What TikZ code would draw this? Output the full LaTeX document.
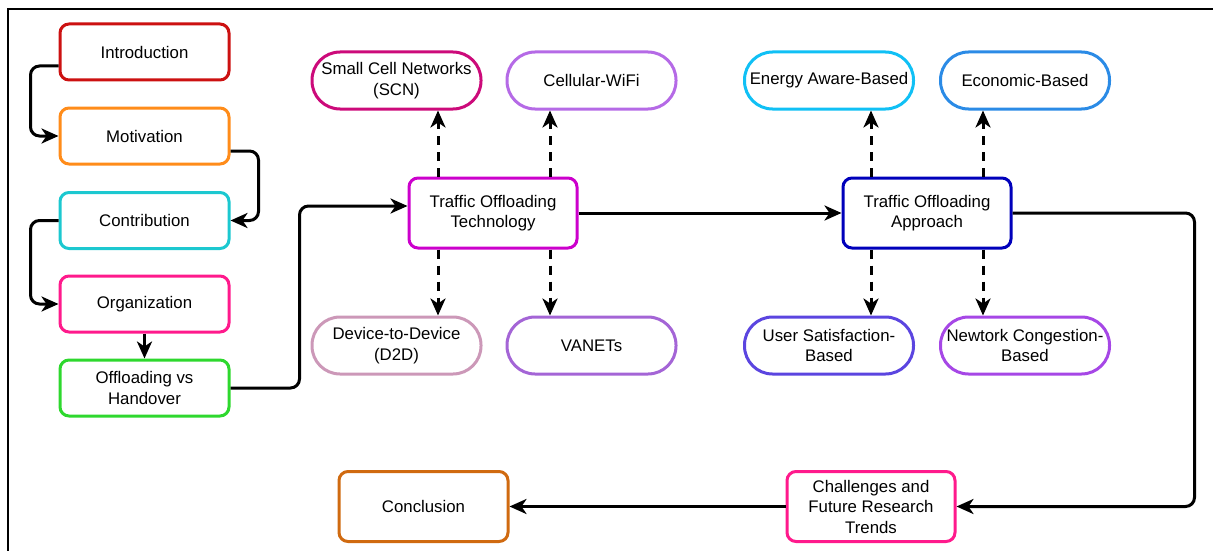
\documentclass[tikz,border=0pt]{standalone}
\usepackage{fontspec}
\setmainfont{Liberation Sans}
\usetikzlibrary{arrows.meta}
\definecolor{cIntro}{HTML}{CC1111}
\definecolor{cMotiv}{HTML}{FF8C1A}
\definecolor{cContrib}{HTML}{1CC8D0}
\definecolor{cOrg}{HTML}{FF1A8C}
\definecolor{cOff}{HTML}{2ED82E}
\definecolor{cSCN}{HTML}{CC0A7A}
\definecolor{cWiFi}{HTML}{B56AE6}
\definecolor{cDD}{HTML}{CC98B8}
\definecolor{cVan}{HTML}{A465D6}
\definecolor{cTOT}{HTML}{CC00CC}
\definecolor{cTOA}{HTML}{0000BB}
\definecolor{cEner}{HTML}{10C0F5}
\definecolor{cEcon}{HTML}{2B8BE6}
\definecolor{cUser}{HTML}{5B45E0}
\definecolor{cNet}{HTML}{A647E6}
\definecolor{cChal}{HTML}{FF1A8C}
\definecolor{cConc}{HTML}{D06A10}
\tikzset{
  boxbase/.style={draw, line width=3pt, align=center, inner sep=0pt,
    font=\fontsize{16.8}{20.5}\selectfont, text=black},
  rbox/.style={boxbase, rectangle, rounded corners=9pt, minimum width=169pt, minimum height=56pt},
  bigbox/.style={boxbase, rectangle, rounded corners=9pt, minimum width=168pt, minimum height=70pt},
  pill/.style={boxbase, rectangle, rounded corners=28pt, minimum width=169pt, minimum height=57pt},
  conn/.style={line width=3pt, rounded corners=9pt,
    -{Stealth[length=17pt,width=15pt,inset=5pt]}},
  dconn/.style={conn, dash pattern=on 9pt off 7pt}
}
\begin{document}
\begin{tikzpicture}[x=1pt,y=-1pt]
\useasboundingbox (0,0) rectangle (1213,551);
\draw[line width=2.5pt] (8,551) -- (8,9) -- (1213,9);
% left column
\node[rbox, draw=cIntro]   (intro)   at (144.5,52)  {Introduction};
\node[rbox, draw=cMotiv]   (motiv)   at (144.5,136) {Motivation};
\node[rbox, draw=cContrib] (contrib) at (144.5,220.5) {Contribution};
\node[rbox, draw=cOrg]     (org)     at (144.5,304) {Organization};
\node[rbox, draw=cOff]     (off)     at (144.5,388) {Offloading vs\\Handover};
% technology
\node[bigbox, draw=cTOT] (tot) at (493,213) {Traffic Offloading\\Technology};
\node[pill, draw=cSCN]  (scn)  at (396.5,80.5)  {Small Cell Networks\\(SCN)};
\node[pill, draw=cWiFi] (wifi) at (591.5,80.5)  {Cellular-WiFi};
\node[pill, draw=cDD]   (dd)   at (396.5,345.5) {Device-to-Device\\(D2D)};
\node[pill, draw=cVan]  (van)  at (591.5,345.5) {VANETs};
% approach
\node[bigbox, draw=cTOA] (toa) at (927,213) {Traffic Offloading\\Approach};
\node[pill, draw=cEner] (ener) at (829,80.5)  {Energy Aware-Based};
\node[pill, draw=cEcon] (econ) at (1025,80.5) {Economic-Based};
\node[pill, draw=cUser] (user) at (829,345.5) {User Satisfaction-\\Based};
\node[pill, draw=cNet]  (net)  at (1025,345.5) {Newtork Congestion-\\Based};
% bottom
\node[bigbox, draw=cChal] (chal) at (871,506.5) {Challenges and\\Future Research\\Trends};
\node[bigbox, draw=cConc, minimum width=169pt] (conc) at (423.5,506.5) {Conclusion};
% connectors
\draw[conn] ([yshift=-14pt]intro.west) -- ++(-28,0) |- (motiv.west);
\draw[conn] ([yshift=-15pt]motiv.east) -- ++(28,0) |- (contrib.east);
\draw[conn] (contrib.west) -- ++(-28,0) |- (org.west);
\draw[conn] (org.south) -- (off.north);
\draw[conn] (off.east) -- ++(69,0) |- ([yshift=7pt]tot.west);
\draw[conn] (tot.east) -- (toa.west);
\draw[conn] (toa.east) -- ++(182,0) |- (chal.east);
\draw[conn] (chal.west) -- (conc.east);
% dashed
\draw[dconn] ([xshift=-55pt]tot.north) -- ([xshift=-55pt]tot.north |- scn.south);
\draw[dconn] ([xshift=57pt]tot.north) -- ([xshift=57pt]tot.north |- wifi.south);
\draw[dconn] ([xshift=-55pt]tot.south) -- ([xshift=-55pt]tot.south |- dd.north);
\draw[dconn] ([xshift=57pt]tot.south) -- ([xshift=57pt]tot.south |- van.north);
\draw[dconn] ([xshift=-56pt]toa.north) -- ([xshift=-56pt]toa.north |- ener.south);
\draw[dconn] ([xshift=56pt]toa.north) -- ([xshift=56pt]toa.north |- econ.south);
\draw[dconn] ([xshift=-56pt]toa.south) -- ([xshift=-56pt]toa.south |- user.north);
\draw[dconn] ([xshift=56pt]toa.south) -- ([xshift=56pt]toa.south |- net.north);
\end{tikzpicture}
\end{document}
